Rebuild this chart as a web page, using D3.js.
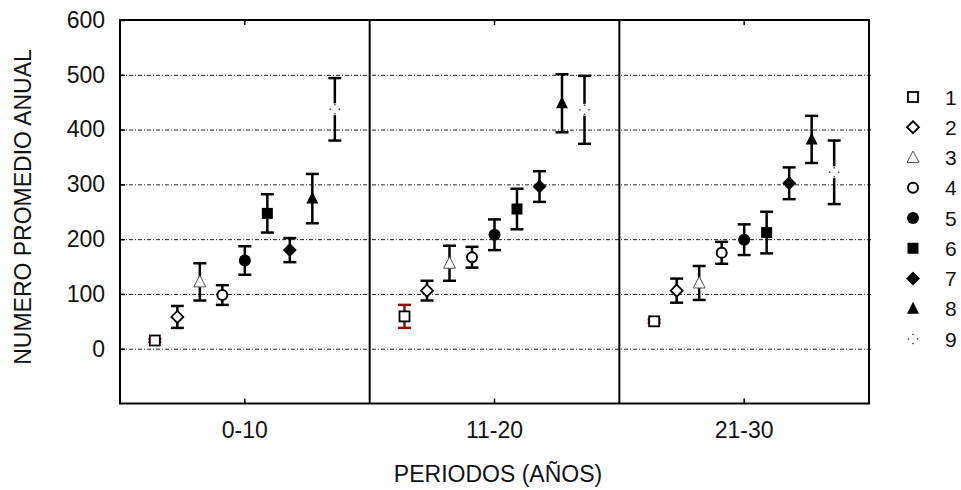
<!DOCTYPE html>
<html>
<head>
<meta charset="utf-8">
<script src="https://cdn.jsdelivr.net/npm/d3@7"></script>
<style>
body { margin: 0; background: #fff; }
text { font-family: "Liberation Sans", Arial, sans-serif; fill: #111; }
</style>
</head>
<body>
<script>
// data
var periods = ["0-10", "11-20", "21-30"];
var seriesIds = [1, 2, 3, 4, 5, 6, 7, 8, 9];
// mean per series, one row per period
var means = [
  [15, 58, 122, 98, 161, 247, 180, 274, 437],
  [59, 106, 156, 167, 208, 255, 296, 448, 436],
  [50, 106, 120, 175, 199, 212, 302, 382, 322]
];
// half width of the error bar
var errs = [
  [3, 20, 34, 18, 26, 35, 22, 45, 57],
  [21, 18, 32, 19, 28, 37, 28, 53, 62],
  [3, 22, 31, 20, 28, 38, 29, 43, 58]
];
var yTicks = [0, 100, 200, 300, 400, 500, 600];

var width = 961, height = 490;
var plotLeft = 120, plotRight = 869, plotTop = 20, plotBottom = 403.5;

var svg = d3.select("body").append("svg")
    .attr("width", width)
    .attr("height", height);

// scales
var xscale = d3.scaleBand()
    .domain(periods)
    .range([plotLeft, plotRight]);

var inner = d3.scalePoint()
    .domain(seriesIds)
    .range([-90, 90]);

var yscale = d3.scaleLinear()
    .domain([-100, 600])
    .range([plotBottom, plotTop]);

// grid lines (dash-dot)
svg.append("g")
  .selectAll("line")
  .data(yTicks.filter(function(d) { return d < 600; }))
  .enter()
  .append("line")
  .attr("x1", plotLeft)
  .attr("x2", plotRight + 4)
  .attr("y1", function(d) { return yscale(d) + 0.5; })
  .attr("y2", function(d) { return yscale(d) + 0.5; })
  .style("stroke", "#222")
  .style("stroke-width", 1)
  .style("stroke-dasharray", "4,2,1,2");

// y axis
var yaxis = d3.axisLeft(yscale).tickValues(yTicks).tickSize(0).tickPadding(15);
var gy = svg.append("g")
  .attr("transform", "translate(" + plotLeft + ",0)")
  .call(yaxis);
gy.select(".domain").remove();
gy.selectAll("text")
  .style("font-size", "23px")
  .style("font-family", "Liberation Sans, Arial, sans-serif");

// left tick marks
svg.append("g")
  .selectAll("line")
  .data(yTicks)
  .enter()
  .append("line")
  .attr("x1", plotLeft)
  .attr("x2", plotLeft + 5)
  .attr("y1", function(d) { return yscale(d) + 0.5; })
  .attr("y2", function(d) { return yscale(d) + 0.5; })
  .style("stroke", "#000")
  .style("stroke-width", 1.5);

// x axis labels
var xaxis = d3.axisBottom(xscale).tickSize(0).tickPadding(18);
var gx = svg.append("g")
  .attr("transform", "translate(0," + plotBottom + ")")
  .call(xaxis);
gx.select(".domain").remove();
gx.selectAll("text")
  .style("font-size", "23px")
  .style("font-family", "Liberation Sans, Arial, sans-serif");

// small ticks at panel centers, top and bottom
periods.forEach(function(p) {
  var cx = xscale(p) + xscale.bandwidth() / 2;
  svg.append("line").attr("x1", cx).attr("x2", cx).attr("y1", plotTop).attr("y2", plotTop + 5)
    .style("stroke", "#000").style("stroke-width", 1.5);
  svg.append("line").attr("x1", cx).attr("x2", cx).attr("y1", plotBottom).attr("y2", plotBottom - 5)
    .style("stroke", "#000").style("stroke-width", 1.5);
});

// panel dividers
svg.selectAll(".divider")
  .data(periods.slice(1))
  .enter()
  .append("line")
  .attr("class", "divider")
  .attr("x1", function(d) { return xscale(d); })
  .attr("x2", function(d) { return xscale(d); })
  .attr("y1", plotTop)
  .attr("y2", plotBottom)
  .style("stroke", "#000")
  .style("stroke-width", 2);

// frame
svg.append("rect")
  .attr("x", plotLeft)
  .attr("y", plotTop)
  .attr("width", plotRight - plotLeft)
  .attr("height", plotBottom - plotTop)
  .style("fill", "none")
  .style("stroke", "#000")
  .style("stroke-width", 2);

// flatten points
var points = [];
periods.forEach(function(p, pi) {
  seriesIds.forEach(function(s, si) {
    points.push({ period: p, s: s, mean: means[pi][si], err: errs[pi][si] });
  });
});

function px(d) { return xscale(d.period) + xscale.bandwidth() / 2 + inner(d.s); }

// error bars
var eb = svg.append("g").selectAll("g")
  .data(points)
  .enter()
  .append("g")
  .style("stroke", function(d) { return d.s === 1 ? "#8b1010" : "#000"; })
  .style("stroke-width", 2.5);

eb.append("line")
  .attr("x1", px).attr("x2", px)
  .attr("y1", function(d) { return yscale(d.mean + d.err); })
  .attr("y2", function(d) { return yscale(d.mean - d.err); });
eb.append("line")
  .attr("x1", function(d) { return px(d) - 6.5; })
  .attr("x2", function(d) { return px(d) + 6.5; })
  .attr("y1", function(d) { return yscale(d.mean + d.err); })
  .attr("y2", function(d) { return yscale(d.mean + d.err); });
eb.append("line")
  .attr("x1", function(d) { return px(d) - 6.5; })
  .attr("x2", function(d) { return px(d) + 6.5; })
  .attr("y1", function(d) { return yscale(d.mean - d.err); })
  .attr("y2", function(d) { return yscale(d.mean - d.err); });

// marker shapes
function drawMarker(g, s) {
  if (s === 1) {
    g.append("rect").attr("x", -5).attr("y", -5).attr("width", 10).attr("height", 10)
      .style("fill", "#fff").style("stroke", "#000").style("stroke-width", 1.8);
  } else if (s === 2) {
    g.append("path").attr("d", "M0,-6L6,0L0,6L-6,0Z")
      .style("fill", "#fff").style("stroke", "#000").style("stroke-width", 1.8);
  } else if (s === 3) {
    g.append("path").attr("d", "M0,-6.5L6,5L-6,5Z")
      .style("fill", "#fff").style("stroke", "#555").style("stroke-width", 1);
  } else if (s === 4) {
    g.append("circle").attr("r", 5)
      .style("fill", "#fff").style("stroke", "#000").style("stroke-width", 2);
  } else if (s === 5) {
    g.append("circle").attr("r", 6).style("fill", "#000");
  } else if (s === 6) {
    g.append("rect").attr("x", -5.5).attr("y", -5.5).attr("width", 11).attr("height", 11)
      .style("fill", "#000");
  } else if (s === 7) {
    g.append("path").attr("d", "M0,-7L7,0L0,7L-7,0Z").style("fill", "#000");
  } else if (s === 8) {
    g.append("path").attr("d", "M0,-7L6,5L-6,5Z").style("fill", "#000");
  } else if (s === 9) {
    g.append("circle").attr("r", 6).style("fill", "#fff");
    [[0, -4.5], [-4.5, 0], [4.5, 0], [0, 4.5]].forEach(function(o) {
      g.append("rect").attr("x", o[0] - 0.7).attr("y", o[1] - 0.7)
        .attr("width", 1.4).attr("height", 1.4).style("fill", "#333");
    });
  }
}

svg.append("g").selectAll("g")
  .data(points)
  .enter()
  .append("g")
  .attr("transform", function(d) { return "translate(" + px(d) + "," + yscale(d.mean) + ")"; })
  .each(function(d) { drawMarker(d3.select(this), d.s); });

// legend
var legendY = d3.scalePoint().domain(seriesIds).range([97, 339]);
var lg = svg.append("g").selectAll("g")
  .data(seriesIds)
  .enter()
  .append("g")
  .attr("transform", function(d) { return "translate(913," + legendY(d) + ")"; });
lg.each(function(d) { drawMarker(d3.select(this), d); });
lg.append("text")
  .attr("x", 32)
  .attr("dy", "0.36em")
  .style("font-size", "21px")
  .text(function(d) { return d; });

// axis titles
svg.append("text")
  .attr("transform", "translate(31,207) rotate(-90)")
  .attr("text-anchor", "middle")
  .style("font-size", "23px")
  .text("NUMERO PROMEDIO ANUAL");

svg.append("text")
  .attr("x", 498)
  .attr("y", 482)
  .attr("text-anchor", "middle")
  .style("font-size", "23px")
  .text("PERIODOS (AÑOS)");
</script>
</body>
</html>
